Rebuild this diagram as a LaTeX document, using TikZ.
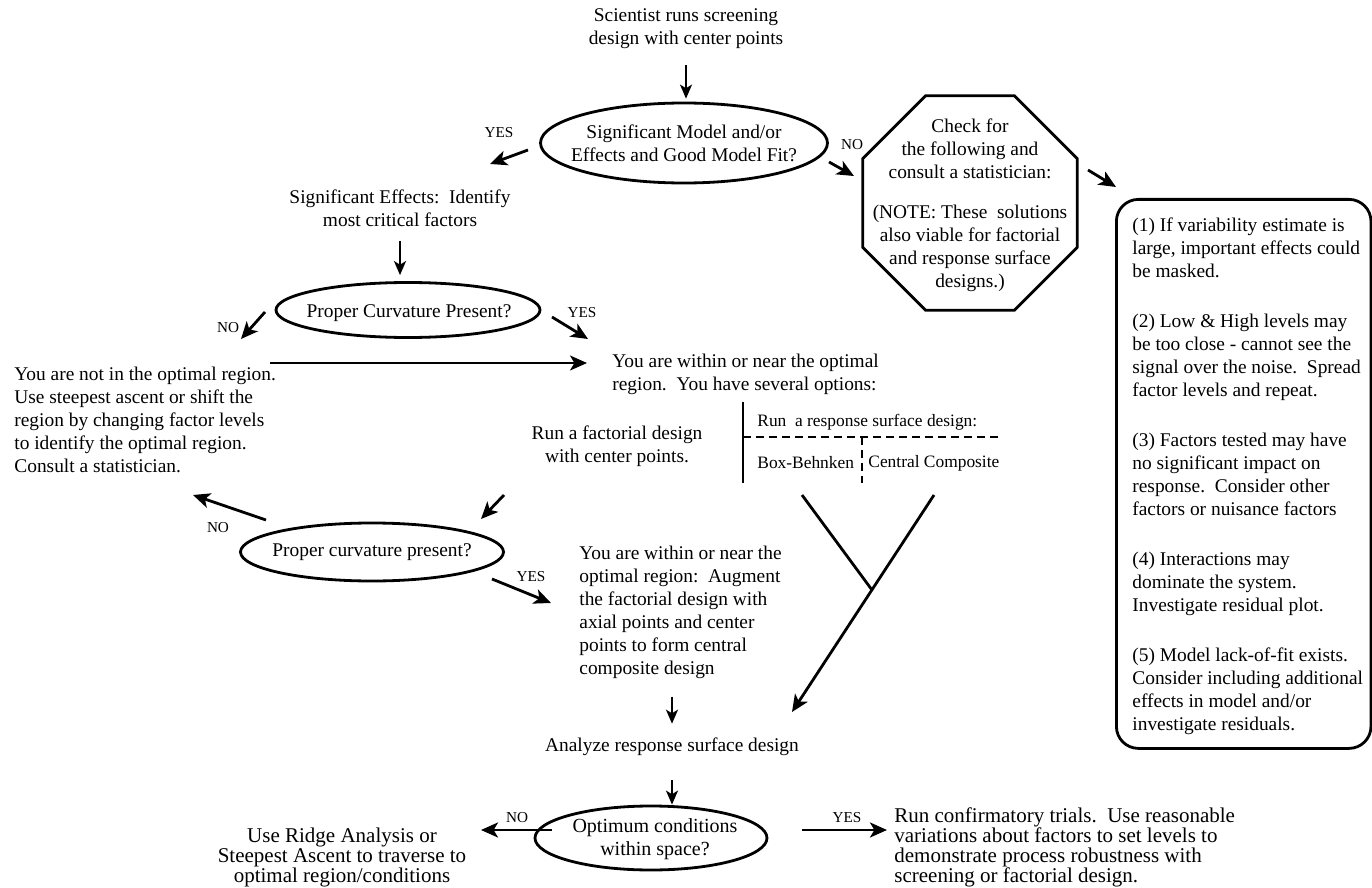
\documentclass[tikz,border=0pt]{standalone}
\usepackage{fontspec}
\setmainfont{Liberation Serif}
\usetikzlibrary{arrows.meta,shapes.geometric}

\begin{document}
\begin{tikzpicture}[
    x=0.5pt, y=-0.5pt,
    txt/.style={align=center, inner sep=0pt, font=\fontsize{9.7}{11.5}\selectfont},
    ltxt/.style={txt, align=left},
    ttxt/.style={inner sep=0pt, font=\fontsize{8.7}{10}\selectfont},
    btxt/.style={inner sep=0pt, font=\fontsize{10.5}{10}\selectfont},
    ans/.style={inner sep=0pt, font=\fontsize{7.6}{9}\selectfont},
    dec/.style={ellipse, draw, line width=1.4pt, inner sep=0pt},
    flow/.style={-{Stealth[length=7pt,width=6pt,inset=1.8pt]}, line width=1pt},
    bflow/.style={-{Stealth[length=8.5pt,width=7.5pt,inset=2.2pt]}, line width=1.4pt},
    tab/.style={line width=1pt},
    tabdash/.style={line width=1pt, dash pattern=on 4pt off 2.5pt},
]
\useasboundingbox (0,0) rectangle (1372,888);

% ---- screening step ---------------------------------------------------------
\node[txt] (start) at (686,29) {Scientist runs screening\\design with center points};
\node[dec, minimum width=143.5pt, minimum height=40pt] (q1) at (684,143) {};
\node[txt] (q1t) at (q1) {Significant Model and/or\\Effects and Good Model Fit?};
\draw[flow, shorten <=8pt, shorten >=1.5pt] (start.south) -- (start.south |- q1.north);

\node[ans] (yes1) at (499,133) {YES};
\coordinate (y1a) at (528,150);
\coordinate (y1b) at (490,164);
\draw[bflow] (y1a) -- (y1b);

\node[ans] (no1) at (852,145) {NO};
\coordinate (n1a) at (829,162);
\coordinate (n1b) at (854,176);
\draw[bflow] (n1a) -- (n1b);

% ---- statistician octagon and checklist ------------------------------------
\node[regular polygon, regular polygon sides=8, draw, line width=1.4pt,
      minimum size=116pt, inner sep=0pt] (oct) at (970,203) {};
\node[txt] (octt) at (970,205) {Check for\\the following and\\consult a statistician:\\[8.5pt]%
(NOTE: These\ \ solutions\\also viable for factorial\\and response surface\\designs.)};

\node[draw, line width=1.4pt, rounded corners=11pt, anchor=north west,
      minimum width=127.3pt, minimum height=274.5pt, inner sep=0pt] (rbox) at (1115,198) {};
\node[ltxt, anchor=west] (rtxt) at (1132,476) {(1) If variability estimate is\\
large, important effects could\\
be masked.\\[13.5pt]
(2) Low \& High levels may\\
be too close - cannot see the\\
signal over the noise.\ \ Spread\\
factor levels and repeat.\\[13.5pt]
(3) Factors tested may have\\
no significant impact on\\
response.\ \ Consider other\\
factors or nuisance factors\\[13.5pt]
(4) Interactions may\\
dominate the system.\\
Investigate residual plot.\\[13.5pt]
(5) Model lack-of-fit exists.\\
Consider including additional\\
effects in model and/or\\
investigate residuals.};
\coordinate (o2a) at (1088,170);
\coordinate (o2b) at (1116,187);
\draw[bflow] (o2a) -- (o2b);

% ---- first curvature check --------------------------------------------------
\node[txt] (sig) at (400,208) {Significant Effects:\ \ Identify\\most critical factors};
\node[dec, minimum width=132pt, minimum height=27.5pt] (q2) at (408,310) {};
\node[txt] (q2t) at (409,313) {Proper Curvature Present?};
\draw[flow, shorten <=7pt, shorten >=3pt] (sig.south) -- (sig.south |- q2.north);

\node[ans] (no2) at (228,328) {NO};
\coordinate (n2a) at (265,312);
\coordinate (n2b) at (241,339);
\draw[bflow] (n2a) -- (n2b);

\node[ans] (yes2) at (582,313) {YES};
\coordinate (y2a) at (552,317);
\coordinate (y2b) at (588,339);
\draw[bflow] (y2a) -- (y2b);

\node[ltxt, anchor=west] (nopt) at (14,420) {You are not in the optimal region.\\
Use steepest ascent or shift the\\region by changing factor levels\\
to identify the optimal region.\\Consult a statistician.};
\node[ltxt, anchor=west] (near) at (612,374) {You are within or near the optimal\\
region.\ \ You have several options:};
\coordinate (h1a) at (270,363);
\draw[bflow, line width=1pt] (h1a) -- ([xshift=-12.5pt]near.west |- h1a);

% ---- options -----------------------------------------------------------------
\node[txt] (fact) at (617,446) {Run a factorial design\\with center points.};
\draw[tab] (743,402) -- (743,483);
\node[ttxt, anchor=west] (rsd) at (757,422) {Run\ \ a response surface design:};
\draw[tabdash] (743,437) -- (1000,437);
\draw[tabdash] (862,437) -- (862,483);
\node[ttxt, anchor=west] (bb) at (757,463) {Box-Behnken};
\node[ttxt, anchor=west] (cc) at (868,463) {Central Composite};

\coordinate (vl) at (802,495);
\coordinate (vr) at (934,495);
\coordinate (vj) at (872,590);
\coordinate (vend) at (792,712);
\draw[line width=1.4pt] (vl) -- (vj);
\draw[bflow] (vr) -- (vend);

% ---- second curvature check -------------------------------------------------
\coordinate (fa) at (504,495);
\coordinate (fb) at (481,519);
\draw[bflow] (fa) -- (fb);
\node[dec, minimum width=131.5pt, minimum height=29pt] (q3) at (372,552) {};
\node[txt] (q3t) at (q3) {Proper curvature present?};

\node[ans] (no3) at (218,528) {NO};
\coordinate (n3a) at (266,520);
\coordinate (n3b) at (193,495);
\draw[bflow] (n3a) -- (n3b);

\node[ans] (yes3) at (531,577) {YES};
\coordinate (y3a) at (492,579);
\coordinate (y3b) at (551,603);
\draw[bflow] (y3a) -- (y3b);

\node[ltxt, anchor=west] (aug) at (579,612) {You are within or near the\\
optimal region:\ \ Augment\\the factorial design with\\axial points and center\\
points to form central\\composite design};
\node[txt] (ana) at (672,747) {Analyze response surface design};
\draw[flow, shorten <=9pt, shorten >=7pt] (ana.north |- aug.south) -- (ana.north);

% ---- optimum decision ---------------------------------------------------------
\node[dec, minimum width=116pt, minimum height=32pt] (q4) at (651,838) {};
\node[txt, font=\fontsize{10}{11.5}\selectfont] (q4t) at (655,839) {Optimum conditions\\within space?};
\draw[flow, shorten <=12pt] (ana.south) -- (ana.south |- q4.north);

\node[ans] (no4) at (517,818) {NO};
\coordinate (n4a) at (552,830);
\coordinate (n4b) at (481,830);
\draw[bflow] (n4a) -- (n4b);

\node[ans] (yes4) at (847,818) {YES};
\coordinate (y4a) at (802,830);
\coordinate (y4b) at (887,830);
\draw[bflow] (y4a) -- (y4b);

\node[btxt, align=center] (ridge) at (342,857) {Use Ridge Analysis or\\
Steepest Ascent to traverse to\\optimal region/conditions};
\node[btxt, align=left, anchor=west] (conf) at (894,847) {Run confirmatory trials.\ \ Use reasonable\\
variations about factors to set levels to\\demonstrate process robustness with\\
screening or factorial design.};

\end{tikzpicture}
\end{document}
